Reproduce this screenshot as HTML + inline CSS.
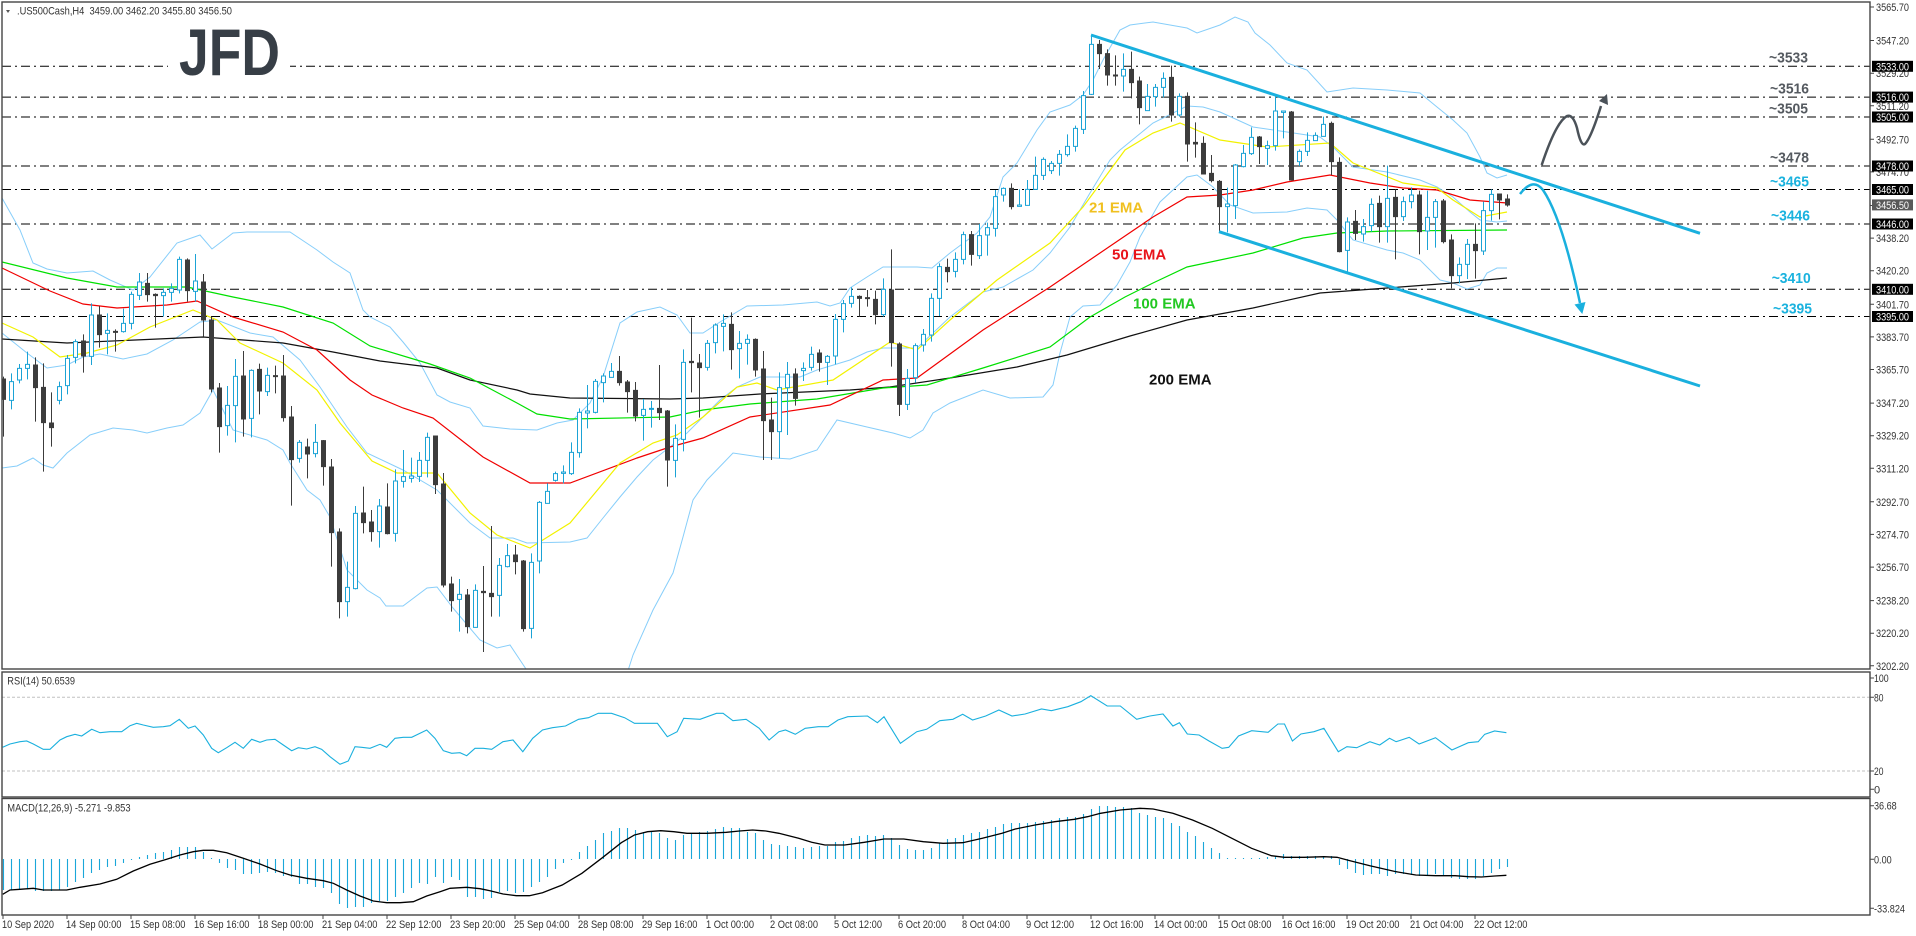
<!DOCTYPE html>
<html><head><meta charset="utf-8"><style>
html,body{margin:0;padding:0;background:#fff;width:1916px;height:936px;overflow:hidden}
svg{display:block}
.wd{stroke:#3c3c3c;stroke-width:1;fill:none;vector-effect:non-scaling-stroke}
.wu{stroke:#1ba3d6;stroke-width:1;fill:none;vector-effect:non-scaling-stroke}
.bd{fill:#3c3c3c;stroke:#3c3c3c;stroke-width:1;vector-effect:non-scaling-stroke}
.bu{fill:#fff;stroke:#1ba3d6;stroke-width:1;vector-effect:non-scaling-stroke}
.lv{stroke:#000;stroke-width:1;stroke-dasharray:9 4 2 4}
.ax{font-size:11px;fill:#333}
.bx{font-size:11px;fill:#fff}
.lg{font-size:15px;font-weight:bold}
</style></head><body>
<svg width="1916" height="936" viewBox="0 0 1916 936" xmlns="http://www.w3.org/2000/svg" font-family="Liberation Sans, Arial, sans-serif">
<defs>
<clipPath id="cm"><rect x="2" y="2" width="1868" height="667"/></clipPath>
<clipPath id="cr"><rect x="2" y="672" width="1868" height="125"/></clipPath>
<clipPath id="cd"><rect x="2" y="798" width="1868" height="117"/></clipPath>
</defs>
<rect width="1916" height="936" fill="#fff"/>

<g clip-path="url(#cm)">
<!-- level lines -->
<path class="lv" d="M2 66.3H1870M2 97.1H1870M2 117H1870M2 166H1870M2 189.5H1870M2 224H1870M2 289.3H1870M2 316.5H1870"/>

<!-- Bollinger bands -->
<g fill="none" stroke="#87cefa" stroke-width="1">
<polyline points="2,198 20,230 33,263 47,269 67,273 93,271 110,280 133,290 150,277 177,243 200,235 212,249 233,233 247,232 290,232 317,250 333,262 350,273 363,310 370,317 390,327 403,342 420,363 437,395 450,402 470,408 483,426 510,429 537,430 557,423 573,420 590,403 603,377 620,323 637,312 660,307 677,315 690,333 703,333 720,322 747,306 783,305 817,302 830,306 840,303 850,288 867,277 883,267 917,267 932,268 950,253 977,233 990,217 1003,177 1017,163 1037,130 1050,112 1070,105 1083,95 1093,80 1103,60 1120,30 1130,25 1153,22 1187,28 1197,33 1220,25 1235,17 1248,22 1255,33 1270,45 1287,63 1307,70 1327,92 1353,88 1387,90 1420,93 1437,107 1453,120 1467,133 1480,157 1487,173 1497,178 1507,175"/>
<polyline points="2,333 27,353 47,368 67,365 83,357 100,354 123,359 147,354 173,340 200,322 217,320 250,333 273,337 300,360 320,387 347,427 367,453 403,470 437,490 470,523 490,538 513,538 527,543 570,542 587,538 603,518 620,497 637,477 653,460 670,447 687,433 703,417 720,400 737,387 760,377 800,377 817,370 850,360 867,352 883,348 917,348 950,317 983,292 1003,287 1033,270 1050,253 1070,227 1090,193 1110,160 1120,150 1153,123 1187,106 1203,107 1220,112 1253,127 1287,132 1320,137 1333,147 1353,167 1387,172 1420,180 1437,187 1453,197 1470,212 1480,220 1497,222 1507,221"/>
<polyline points="2,468 17,466 33,458 43,465 53,468 67,453 90,435 113,428 133,430 147,433 167,428 183,425 200,413 213,390 233,430 267,440 283,450 290,463 307,490 320,500 330,517 347,570 367,590 380,598 386,606 403,606 427,588 437,587 453,608 480,640 497,648 510,645 520,660 540,690 600,700 625,680 633,655 653,610 673,573 683,537 693,500 707,480 733,453 760,457 790,459 817,450 837,420 867,427 893,433 910,438 923,430 933,413 950,403 983,390 1010,398 1043,397 1053,385 1060,353 1070,317 1083,306 1100,305 1117,285 1130,262 1140,237 1160,202 1187,177 1197,175 1213,187 1230,205 1253,213 1287,212 1307,208 1327,210 1337,220 1353,240 1387,250 1403,253 1420,260 1440,280 1453,283 1467,289 1480,285 1487,273 1497,268 1507,268"/>
</g>

<!-- EMAs -->
<g fill="none" stroke-width="1.2">
<polyline stroke="#111" points="2,339 67,343 203,337 283,343 333,352 380,361 437,368 470,380 517,390 530,394 570,398 670,399 703,398 760,394 850,390 890,387 950,378 1017,367 1067,355 1130,336 1187,320 1253,308 1320,293 1387,288 1453,283 1507,278"/>
<polyline stroke="#00e000" points="2,262 67,278 117,287 187,287 233,297 283,307 333,323 370,346 430,364 470,378 517,403 537,414 570,419 670,417 703,410 750,404 817,399 883,388 927,385 983,368 1050,347 1090,317 1125,297 1153,283 1187,267 1253,253 1303,238 1337,233 1387,231 1507,230"/>
<polyline stroke="#f00000" points="2,268 50,291 83,304 117,308 167,305 197,301 233,317 283,332 317,350 350,380 372,395 403,408 433,418 483,457 530,483 570,483 637,458 670,447 703,438 750,417 830,405 883,380 917,378 983,330 1050,287 1125,236 1153,217 1187,197 1220,195 1253,190 1287,182 1330,175 1370,183 1403,188 1437,190 1470,200 1507,203"/>
<polyline stroke="#f2f200" points="2,323 33,337 60,357 87,353 117,345 150,327 193,310 217,320 240,343 283,363 317,390 340,423 372,461 397,473 437,473 470,513 497,535 530,548 570,523 620,463 653,443 677,435 703,417 737,387 757,383 777,390 833,380 890,342 917,350 950,320 997,280 1050,243 1083,207 1125,150 1153,133 1180,123 1220,140 1267,147 1330,143 1353,163 1403,183 1437,188 1453,200 1480,217 1507,212"/>
</g>

<!-- Candles group A -->
<g transform="translate(0 200) scale(1 0.333333)">
<path class="wd" d="M3.5 530V710M35.5 472V665M43.5 490V815M51.5 577V740M83.5 403V518M99.5 318V443M115.5 388V455M147.5 219V305M155.5 280V383M187.5 175V305M203.5 222V410M211.5 350V577M219.5 549V758M243.5 453V710M259.5 491V643M275.5 497V580M283.5 465V665M291.5 618V917M307.5 716V835M323.5 720V857M331.5 777V1100M339.5 985V1255M363.5 860V1000M371.5 930V1025"/>
<path class="wu" d="M11.5 520V628M19.5 492V550M27.5 455V538M59.5 545V613M67.5 465V583M75.5 418V490M91.5 310V495M107.5 340V463M123.5 326V398M131.5 275V388M139.5 219V300M163.5 265V350M171.5 250V305M179.5 170V280M195.5 162V305M227.5 558V707M235.5 477V727M251.5 508V712M267.5 503V588M299.5 720V788M315.5 672V772M347.5 1085V1250M355.5 918V1168"/>
<path class="bd" d="M1.5 537h4v61h-4zM33.5 495h4v68h-4zM41.5 562h4v106h-4zM49.5 669h4v14h-4zM81.5 423h4v45h-4zM97.5 345h4v59h-4zM113.5 394h4v3h-4zM145.5 250h4v34h-4zM153.5 283h4v4h-4zM185.5 180h4v92h-4zM201.5 246h4v114h-4zM209.5 360h4v207h-4zM217.5 564h4v116h-4zM241.5 528h4v129h-4zM257.5 508h4v65h-4zM273.5 527h4v3h-4zM281.5 528h4v125h-4zM289.5 651h4v128h-4zM305.5 741h4v21h-4zM321.5 722h4v78h-4zM329.5 801h4v197h-4zM337.5 996h4v209h-4zM361.5 939h4v29h-4zM369.5 966h4v29h-4z"/>
<path class="bu" d="M9.5 545h4v56h-4zM17.5 505h4v35h-4zM25.5 493h4v12h-4zM57.5 560h4v41h-4zM65.5 475h4v82h-4zM73.5 425h4v47h-4zM89.5 345h4v124h-4zM105.5 391h4v9h-4zM121.5 370h4v25h-4zM129.5 283h4v87h-4zM137.5 246h4v40h-4zM161.5 277h4v10h-4zM169.5 265h4v12h-4zM177.5 178h4v92h-4zM193.5 243h4v31h-4zM225.5 616h4v61h-4zM233.5 529h4v88h-4zM249.5 511h4v144h-4zM265.5 526h4v49h-4zM297.5 727h4v48h-4zM313.5 727h4v34h-4zM345.5 1162h4v43h-4zM353.5 940h4v226h-4z"/>
</g>

<!-- Candles group B -->
<g transform="translate(0 190) scale(1 0.333333)">
<path class="wd" d="M387.5 880V1033M435.5 738V912M443.5 849V1192M451.5 1160V1265M467.5 1197V1330M483.5 1128V1386M491.5 1008V1280M515.5 1065V1153M523.5 1110V1325M619.5 498V587M627.5 570V668M635.5 576V694M659.5 525V690M667.5 660V890M691.5 383V607M699.5 492V683M731.5 367V539M755.5 445V560"/>
<path class="wu" d="M379.5 927V1073M395.5 838V1055M403.5 780V893M411.5 803V878M419.5 786V876M427.5 728V862M459.5 1167V1325M475.5 1183V1313M499.5 1104V1280M507.5 1062V1132M531.5 1090V1345M539.5 933V1150M547.5 880V941M555.5 845V875M563.5 826V880M571.5 757V855M579.5 655V803M587.5 585V715M595.5 567V670M603.5 550V637M611.5 519V563M643.5 627V752M651.5 633V713M675.5 703V862M683.5 478V784M707.5 450V542M715.5 400V490M723.5 373V484M739.5 423V565M747.5 433V524"/>
<path class="bd" d="M385.5 951h4v80h-4zM433.5 738h4v146h-4zM441.5 882h4v303h-4zM449.5 1182h4v50h-4zM465.5 1215h4v95h-4zM481.5 1204h4v4h-4zM489.5 1210h4v10h-4zM513.5 1095h4v20h-4zM521.5 1113h4v203h-4zM617.5 544h4v34h-4zM625.5 576h4v29h-4zM633.5 601h4v77h-4zM657.5 655h4v13h-4zM665.5 663h4v147h-4zM689.5 514h4v4h-4zM697.5 519h4v14h-4zM729.5 403h4v76h-4zM753.5 448h4v92h-4z"/>
<path class="bu" d="M377.5 948h4v77h-4zM393.5 873h4v157h-4zM401.5 860h4v14h-4zM409.5 858h4v7h-4zM417.5 811h4v48h-4zM425.5 742h4v69h-4zM457.5 1213h4v15h-4zM473.5 1201h4v111h-4zM497.5 1126h4v90h-4zM505.5 1097h4v33h-4zM529.5 1117h4v198h-4zM537.5 937h4v176h-4zM545.5 904h4v36h-4zM553.5 851h4v20h-4zM561.5 846h4v4h-4zM569.5 787h4v64h-4zM577.5 667h4v121h-4zM585.5 663h4v6h-4zM593.5 574h4v93h-4zM601.5 558h4v20h-4zM609.5 544h4v18h-4zM641.5 658h4v18h-4zM649.5 655h4v3h-4zM673.5 745h4v66h-4zM681.5 517h4v231h-4zM705.5 460h4v72h-4zM713.5 405h4v53h-4zM721.5 400h4v9h-4zM737.5 460h4v16h-4zM745.5 448h4v12h-4z"/>
</g>

<!-- Candles group CD -->
<g transform="translate(0 20) scale(1 0.333333)">
<path class="wd" d="M763.5 993V1320M771.5 1133V1320M795.5 1045V1157M819.5 988V1055M859.5 826V890M867.5 810V860M875.5 812V913M891.5 688V1040M899.5 967V1188M947.5 716V787M971.5 633V737M1011.5 490V568M1099.5 60V147M1107.5 88V197M1115.5 106V197M1131.5 95V235M1139.5 170V313M1171.5 137V305M1187.5 217V425M1195.5 307V413M1203.5 349V462M1211.5 405V487M1219.5 480V637M1259.5 348V432M1291.5 273V482M1331.5 305V465M1339.5 412V697M1355.5 570V660M1379.5 527V668M1395.5 508V718M1419.5 512V703M1443.5 537V670M1451.5 643V805M1475.5 610V776M1499.5 522V598M1507.5 523V560"/>
<path class="wu" d="M779.5 1057V1315M787.5 1026V1245M803.5 1027V1083M811.5 980V1052M827.5 1005V1095M835.5 882V1033M843.5 840V937M851.5 802V863M883.5 775V890M907.5 1047V1170M915.5 970V1088M923.5 927V995M931.5 820V965M939.5 730V888M955.5 697V772M963.5 635V733M979.5 612V717M987.5 608V707M995.5 510V650M1003.5 502V545M1019.5 508V560M1027.5 480V557M1035.5 410V509M1043.5 412V480M1051.5 423V462M1059.5 390V467M1067.5 343V410M1075.5 317V395M1083.5 213V342M1091.5 45V225M1123.5 100V215M1147.5 192V272M1155.5 192V260M1163.5 157V232M1179.5 220V290M1227.5 503V637M1235.5 432V597M1243.5 375V442M1251.5 322V405M1267.5 362V435M1275.5 226V392M1283.5 273V355M1299.5 388V438M1307.5 337V408M1315.5 337V362M1323.5 290V350M1347.5 592V755M1363.5 597V665M1371.5 535V635M1387.5 437V668M1403.5 530V603M1411.5 502V565M1427.5 512V690M1435.5 537V683M1459.5 712V790M1467.5 657V777M1483.5 545V705M1491.5 508V602"/>
<path class="bd" d="M761.5 1047h4v155h-4zM769.5 1200h4v35h-4zM793.5 1062h4v73h-4zM817.5 999h4v28h-4zM857.5 829h4v6h-4zM865.5 833h4v3h-4zM873.5 838h4v46h-4zM889.5 810h4v158h-4zM897.5 972h4v181h-4zM945.5 742h4v13h-4zM969.5 644h4v59h-4zM1009.5 505h4v55h-4zM1097.5 73h4v28h-4zM1105.5 101h4v64h-4zM1113.5 165h4v3h-4zM1129.5 148h4v40h-4zM1137.5 183h4v80h-4zM1169.5 172h4v113h-4zM1185.5 229h4v143h-4zM1193.5 367h4v5h-4zM1201.5 370h4v92h-4zM1209.5 460h4v22h-4zM1217.5 484h4v76h-4zM1257.5 351h4v29h-4zM1289.5 276h4v204h-4zM1329.5 310h4v115h-4zM1337.5 427h4v268h-4zM1353.5 604h4v36h-4zM1377.5 550h4v70h-4zM1393.5 532h4v58h-4zM1417.5 525h4v110h-4zM1441.5 543h4v122h-4zM1449.5 660h4v107h-4zM1473.5 673h4v19h-4zM1497.5 522h4v18h-4zM1505.5 537h4v18h-4z"/>
<path class="bu" d="M777.5 1103h4v132h-4zM785.5 1063h4v40h-4zM801.5 1045h4v7h-4zM809.5 1003h4v39h-4zM825.5 1009h4v18h-4zM833.5 898h4v110h-4zM841.5 851h4v47h-4zM849.5 829h4v21h-4zM881.5 808h4v76h-4zM905.5 1075h4v78h-4zM913.5 977h4v96h-4zM921.5 943h4v32h-4zM929.5 835h4v110h-4zM937.5 740h4v95h-4zM953.5 718h4v36h-4zM961.5 644h4v74h-4zM977.5 647h4v60h-4zM985.5 623h4v22h-4zM993.5 530h4v95h-4zM1001.5 505h4v20h-4zM1017.5 555h4v4h-4zM1025.5 508h4v48h-4zM1033.5 466h4v42h-4zM1041.5 418h4v48h-4zM1049.5 430h4v22h-4zM1057.5 403h4v27h-4zM1065.5 379h4v25h-4zM1073.5 325h4v54h-4zM1081.5 227h4v101h-4zM1089.5 73h4v150h-4zM1121.5 148h4v20h-4zM1145.5 229h4v43h-4zM1153.5 202h4v28h-4zM1161.5 175h4v27h-4zM1177.5 229h4v56h-4zM1225.5 552h4v8h-4zM1233.5 435h4v122h-4zM1241.5 400h4v40h-4zM1249.5 352h4v49h-4zM1265.5 377h4v8h-4zM1273.5 273h4v104h-4zM1281.5 273h4v4h-4zM1297.5 394h4v31h-4zM1305.5 361h4v33h-4zM1313.5 346h4v16h-4zM1321.5 313h4v36h-4zM1345.5 606h4v85h-4zM1361.5 620h4v22h-4zM1369.5 553h4v64h-4zM1385.5 535h4v85h-4zM1401.5 545h4v45h-4zM1409.5 525h4v20h-4zM1425.5 592h4v41h-4zM1433.5 545h4v47h-4zM1457.5 733h4v34h-4zM1465.5 673h4v60h-4zM1481.5 572h4v121h-4zM1489.5 523h4v49h-4z"/>
</g>

<!-- channel -->
<g stroke="#1ab0de" stroke-width="3" fill="none">
<line x1="1091" y1="35" x2="1700" y2="233.3"/>
<line x1="1219" y1="231.7" x2="1700" y2="386"/>
</g>

<!-- arrows -->
<path d="M1541.7 165 Q1556 122 1567 116 Q1573 114 1577 128 Q1581 147 1585 144 Q1591 138 1601 106" fill="none" stroke="#4b5259" stroke-width="2.5"/>
<polygon points="1607,94 1608,105 1599,101" fill="#4b5259"/>
<path d="M1520 194 Q1533 177 1543 190 Q1562 218 1580 303" fill="none" stroke="#1ab0de" stroke-width="2.5"/>
<polygon points="1582.3,314 1585.5,302 1574.5,304.5" fill="#1ab0de"/>

<!-- level text -->
<g class="lg">
<text x="1769" y="62.5" fill="#555a60" textLength="39" lengthAdjust="spacingAndGlyphs">~3533</text>
<text x="1770" y="93.5" fill="#555a60" textLength="39" lengthAdjust="spacingAndGlyphs">~3516</text>
<text x="1769" y="113.5" fill="#555a60" textLength="39" lengthAdjust="spacingAndGlyphs">~3505</text>
<text x="1770" y="162.5" fill="#555a60" textLength="39" lengthAdjust="spacingAndGlyphs">~3478</text>
<text x="1770" y="186.5" fill="#1ab2de" textLength="39" lengthAdjust="spacingAndGlyphs">~3465</text>
<text x="1771" y="220.5" fill="#1ab2de" textLength="39" lengthAdjust="spacingAndGlyphs">~3446</text>
<text x="1771.7" y="283" fill="#1ab2de" textLength="39" lengthAdjust="spacingAndGlyphs">~3410</text>
<text x="1773" y="313.3" fill="#1ab2de" textLength="39" lengthAdjust="spacingAndGlyphs">~3395</text>
<text x="1089" y="212.5" fill="#f0c020">21 EMA</text>
<text x="1112" y="259.5" fill="#e8141b">50 EMA</text>
<text x="1133" y="308.5" fill="#22c822">100 EMA</text>
<text x="1149" y="384.5" fill="#111">200 EMA</text>
</g>

<!-- logo -->
<rect x="168" y="22" width="122" height="58" fill="#fff"/>
<text x="179" y="75" font-size="66" font-weight="bold" fill="#373e46" textLength="101" lengthAdjust="spacingAndGlyphs">JFD</text>
</g>

<!-- title -->
<polygon points="6,10 10,10 8,13" fill="#555"/>
<text x="17" y="14.5" font-size="11" fill="#333" textLength="215" lengthAdjust="spacingAndGlyphs">.US500Cash,H4&#160; 3459.00 3462.20 3455.80 3456.50</text>

<!-- RSI -->
<g clip-path="url(#cr)">
<path d="M2 697.3H1870M2 771H1870" stroke="#c0c0c0" stroke-dasharray="3 2" stroke-width="1"/>
<polyline fill="none" stroke="#1ab0de" stroke-width="1.1" points="2.7,747.3 10,744 20,741.7 26.7,741 33.3,744 43.3,749.3 50,749.3 60,740 66.7,736.7 75,734.3 81.7,736 91.7,729.3 100,732.7 110,731.7 121.7,731.7 130,725.7 136.7,723.3 143.3,725 153.3,727.3 163.3,726.7 170,725.7 179.3,719.3 188.3,728.3 195,726 203.3,735 211.7,748.3 218.3,752.7 226.7,747.7 235,742.3 243.3,748.3 251.7,739.3 260,742.3 266.7,740 275,739.3 283.3,745 291.7,750.7 298.3,747.7 306.7,749 315,746.7 321.7,749.3 330,756.7 340,764.3 348.3,761 355,746.7 361.7,747.3 370,748.3 380,744.3 386.7,747.3 395,738.3 403.3,737.3 411.7,737.3 426.7,730 435,738.3 443.3,750.7 451.7,753.3 460,752.7 466.7,755.7 475,748.3 483.3,748.3 491.7,749.3 503,741.7 513,740 522.8,751.7 532.7,738.3 542.5,730 552.4,727.7 565.5,726 578.6,719.3 588.5,717.7 598.3,713.3 611.5,713.3 624.6,717.7 634.5,723.3 657.4,723.3 667.3,736.7 677.1,731.7 683.7,718.3 700.1,719.3 716.5,713.3 723.1,713.3 732.9,720.7 746.1,719.3 759.2,728.3 769.1,740 778.9,731.7 785.5,730 795.3,734.3 805.2,728.3 818.3,726.7 828.1,726.7 838,720 847.8,716.7 867.5,716 877.4,722.7 884,716.7 900.4,743.3 916.8,731.7 926.6,729.3 939.8,720.7 952.9,719.3 962.7,714.3 972.6,720 985.7,716 998.9,710 1012,716 1025.1,714 1041.5,709 1051.4,710.7 1067.8,706.7 1080.9,701.7 1090.8,695.7 1107.2,706 1120.3,706 1136.7,719.3 1149.9,716 1163,714 1172.9,726 1179.4,722.7 1187.3,734 1199.1,735 1209,741 1222.1,748.3 1228.7,747.3 1238.5,736 1251.7,730.7 1268.1,732.3 1277.9,724 1284.5,724 1292.4,741 1300.9,734 1314,731.7 1323.9,728.3 1338.3,751.7 1346.9,746.7 1356.7,747.7 1369.9,741.7 1379.7,745 1389.5,738.3 1396.1,741.7 1409.2,737.3 1419.1,744 1435.5,737.7 1451.9,750 1468.3,742.7 1478.2,741.7 1484.7,734.3 1494.6,731 1506.4,732.7"/>
</g>
<text x="7.3" y="684.7" font-size="11" fill="#333" textLength="67.7" lengthAdjust="spacingAndGlyphs">RSI(14) 50.6539</text>

<!-- MACD -->
<g clip-path="url(#cd)">
<path fill="none" stroke="#1aa7d9" stroke-width="1.1" d="M3.5 859V890M11.5 859V890M19.5 859V889M27.5 859V889M35.5 859V891M43.5 859V891M51.5 859V891M59.5 859V890M67.5 859V887M75.5 859V882M83.5 859V878M91.5 859V873M99.5 859V870M107.5 859V867M115.5 859V866M123.5 859V863M131.5 859V860M139.5 859V857M147.5 859V855M155.5 859V853M163.5 859V852M171.5 859V850M179.5 859V847M187.5 859V847M195.5 859V847M203.5 859V852M211.5 859V858M219.5 859V863M227.5 859V868M235.5 859V870M243.5 859V874M251.5 859V874M259.5 859V873M267.5 859V872M275.5 859V873M283.5 859V876M291.5 859V877M299.5 859V884M307.5 859V884M315.5 859V887M323.5 859V888M331.5 859V893M339.5 859V904M347.5 859V908M355.5 859V907M363.5 859V907M371.5 859V903M379.5 859V901M387.5 859V901M395.5 859V897M403.5 859V893M411.5 859V888M419.5 859V883M427.5 859V884M435.5 859V877M443.5 859V883M451.5 859V877M459.5 859V880M467.5 859V897M475.5 859V897M483.5 859V899M491.5 859V898M499.5 859V892M507.5 859V891M515.5 859V893M523.5 859V892M531.5 859V887M539.5 859V882M547.5 859V877M555.5 859V869M563.5 859V863M571.5 859V860M579.5 859V852M587.5 859V846M595.5 859V840M603.5 859V833M611.5 859V831M619.5 859V828M627.5 859V828M635.5 859V830M643.5 859V832M651.5 859V832M659.5 859V833M667.5 859V838M675.5 859V840M683.5 859V835M691.5 859V833M699.5 859V832M707.5 859V831M715.5 859V829M723.5 859V827M731.5 859V828M739.5 859V828M747.5 859V832M755.5 859V833M763.5 859V840M771.5 859V844M779.5 859V845M787.5 859V846M795.5 859V847M803.5 859V848M811.5 859V847M819.5 859V846M827.5 859V846M835.5 859V842M843.5 859V841M851.5 859V838M859.5 859V836M867.5 859V835M875.5 859V836M883.5 859V835M891.5 859V838M899.5 859V845M907.5 859V849M915.5 859V850M923.5 859V850M931.5 859V848M939.5 859V843M947.5 859V839M955.5 859V838M963.5 859V835M971.5 859V833M979.5 859V832M987.5 859V829M995.5 859V827M1003.5 859V824M1011.5 859V823M1019.5 859V823M1027.5 859V823M1035.5 859V822M1043.5 859V821M1051.5 859V820M1059.5 859V818M1067.5 859V817M1075.5 859V817M1083.5 859V814M1091.5 859V809M1099.5 859V806M1107.5 859V806M1115.5 859V807M1123.5 859V807M1131.5 859V808M1139.5 859V813M1147.5 859V815M1155.5 859V817M1163.5 859V818M1171.5 859V823M1179.5 859V826M1187.5 859V832M1195.5 859V836M1203.5 859V842M1211.5 859V848M1219.5 859V853M1227.5 859V858M1235.5 859V858M1243.5 859V858M1251.5 859V858M1259.5 859V858M1267.5 859V857M1275.5 859V856M1283.5 859V854M1291.5 859V856M1299.5 859V856M1307.5 859V856M1315.5 859V856M1323.5 859V856M1331.5 859V856M1339.5 859V865M1347.5 859V869M1355.5 859V873M1363.5 859V875M1371.5 859V874M1379.5 859V874M1387.5 859V876M1395.5 859V874M1403.5 859V874M1411.5 859V875M1419.5 859V876M1427.5 859V875M1435.5 859V874M1443.5 859V876M1451.5 859V878M1459.5 859V879M1467.5 859V879M1475.5 859V879M1483.5 859V876M1491.5 859V873M1499.5 859V869M1507.5 859V867"/>
<polyline fill="none" stroke="#000" stroke-width="1.3" points="2.7,894.3 10,890 20,889.3 33.3,888.3 43.3,890 66.7,890 80,887.3 100,884 116.7,879.3 133.3,871 150,864.3 166.7,859.3 180,855 193.3,851.7 203.3,850.3 213.3,850.3 226.7,852.7 243.3,858.3 260,864 276.7,870.7 290,875 306.7,878.3 323.3,880.7 333.3,883.3 346.7,890 360,896 373.3,901 386.7,902.7 400,902.7 413.3,901.7 426.7,896 440,891.7 450,888.3 466.7,887.3 480,888.7 490,890.7 503.1,894 516.3,895.7 529.4,895.7 542.5,892.7 562.2,885 581.9,873.3 601.6,858.3 621.3,842.7 634.5,835 647.6,831.7 660.7,830.7 673.8,831.7 687,833.3 706.7,833.3 726.4,832.3 739.5,831 752.6,830 765.8,831 778.9,833.3 798.6,838.3 811.7,842.3 824.9,845 844.6,845 864.3,842.3 884,839 903.7,839 923.4,841.7 943.1,843.3 962.7,842.7 982.4,838.3 1002.1,833.3 1015.3,829 1035,825 1054.7,821.7 1074.4,819.3 1087.5,816.7 1100.6,813.3 1120.3,810 1140,808.3 1153.1,809 1172.8,813.3 1192.5,820 1212.2,828.3 1231.9,838.3 1251.6,848.3 1271.3,855.7 1284.5,857.3 1304.2,857.3 1323.9,856.7 1337,857.3 1350.1,860.7 1369.9,865.7 1396.1,871.7 1415.8,875 1435.5,875.7 1455.2,875.7 1468.3,876.7 1481.5,877 1494.6,876 1506.4,875.3"/>
</g>
<text x="7.3" y="811.3" font-size="11" fill="#333" textLength="123.3" lengthAdjust="spacingAndGlyphs">MACD(12,26,9) -5.271 -9.853</text>

<!-- frames -->
<g fill="none" stroke="#444" stroke-width="1.4">
<rect x="2" y="2" width="1868" height="667"/>
<rect x="2" y="672" width="1868" height="125"/>
<rect x="2" y="798.5" width="1868" height="116.5"/>
</g>

<!-- price axis ticks -->
<path stroke="#444" stroke-width="1" d="M1870 7H1874M1870 40.5H1874M1870 73.2H1874M1870 105.8H1874M1870 139.3H1874M1870 171.9H1874M1870 205.5H1874M1870 238.1H1874M1870 270.7H1874M1870 304.3H1874M1870 336.9H1874M1870 369.5H1874M1870 403.1H1874M1870 435.7H1874M1870 468.3H1874M1870 501.8H1874M1870 534.4H1874M1870 567.1H1874M1870 600.6H1874M1870 633.2H1874M1870 665.8H1874M1870 678H1874M1870 697.3H1874M1870 771H1874M1870 789.3H1874M1870 805.7H1874M1870 859.3H1874M1870 908.3H1874"/>
<g class="ax">
<text x="1876" y="11" textLength="33" lengthAdjust="spacingAndGlyphs">3565.70</text>
<text x="1876" y="44.5" textLength="33" lengthAdjust="spacingAndGlyphs">3547.20</text>
<text x="1876" y="77.2" textLength="33" lengthAdjust="spacingAndGlyphs">3529.20</text>
<text x="1876" y="109.8" textLength="33" lengthAdjust="spacingAndGlyphs">3511.20</text>
<text x="1876" y="143.3" textLength="33" lengthAdjust="spacingAndGlyphs">3492.70</text>
<text x="1876" y="175.9" textLength="33" lengthAdjust="spacingAndGlyphs">3474.70</text>
<text x="1876" y="242.1" textLength="33" lengthAdjust="spacingAndGlyphs">3438.20</text>
<text x="1876" y="274.7" textLength="33" lengthAdjust="spacingAndGlyphs">3420.20</text>
<text x="1876" y="308.3" textLength="33" lengthAdjust="spacingAndGlyphs">3401.70</text>
<text x="1876" y="340.9" textLength="33" lengthAdjust="spacingAndGlyphs">3383.70</text>
<text x="1876" y="373.5" textLength="33" lengthAdjust="spacingAndGlyphs">3365.70</text>
<text x="1876" y="407.1" textLength="33" lengthAdjust="spacingAndGlyphs">3347.20</text>
<text x="1876" y="439.7" textLength="33" lengthAdjust="spacingAndGlyphs">3329.20</text>
<text x="1876" y="472.3" textLength="33" lengthAdjust="spacingAndGlyphs">3311.20</text>
<text x="1876" y="505.8" textLength="33" lengthAdjust="spacingAndGlyphs">3292.70</text>
<text x="1876" y="538.4" textLength="33" lengthAdjust="spacingAndGlyphs">3274.70</text>
<text x="1876" y="571.1" textLength="33" lengthAdjust="spacingAndGlyphs">3256.70</text>
<text x="1876" y="604.6" textLength="33" lengthAdjust="spacingAndGlyphs">3238.20</text>
<text x="1876" y="637.2" textLength="33" lengthAdjust="spacingAndGlyphs">3220.20</text>
<text x="1876" y="669.8" textLength="33" lengthAdjust="spacingAndGlyphs">3202.20</text>
<text x="1874" y="682" textLength="14.7" lengthAdjust="spacingAndGlyphs">100</text>
<text x="1874" y="701.3" textLength="9.5" lengthAdjust="spacingAndGlyphs">80</text>
<text x="1874" y="775" textLength="9.5" lengthAdjust="spacingAndGlyphs">20</text>
<text x="1874" y="793.3">0</text>
<text x="1874" y="809.7" textLength="22.7" lengthAdjust="spacingAndGlyphs">36.68</text>
<text x="1874" y="863.3" textLength="17.7" lengthAdjust="spacingAndGlyphs">0.00</text>
<text x="1874" y="912.3" textLength="31" lengthAdjust="spacingAndGlyphs">-33.824</text>
</g>

<!-- price boxes -->
<g>
<rect x="1872" y="60.8" width="41" height="11" fill="#000"/>
<rect x="1872" y="91.6" width="41" height="11" fill="#000"/>
<rect x="1872" y="111.5" width="41" height="11" fill="#000"/>
<rect x="1872" y="160.5" width="41" height="11" fill="#000"/>
<rect x="1872" y="184" width="41" height="11" fill="#000"/>
<rect x="1872" y="199.4" width="41" height="11" fill="#595959"/>
<rect x="1872" y="218.5" width="41" height="11" fill="#000"/>
<rect x="1872" y="283.8" width="41" height="11" fill="#000"/>
<rect x="1872" y="311" width="41" height="11" fill="#000"/>
</g>
<g class="bx">
<text x="1876" y="70.3" textLength="33" lengthAdjust="spacingAndGlyphs">3533.00</text>
<text x="1876" y="101.1" textLength="33" lengthAdjust="spacingAndGlyphs">3516.00</text>
<text x="1876" y="121" textLength="33" lengthAdjust="spacingAndGlyphs">3505.00</text>
<text x="1876" y="170" textLength="33" lengthAdjust="spacingAndGlyphs">3478.00</text>
<text x="1876" y="193.5" textLength="33" lengthAdjust="spacingAndGlyphs">3465.00</text>
<text x="1876" y="208.9" textLength="33" lengthAdjust="spacingAndGlyphs">3456.50</text>
<text x="1876" y="228" textLength="33" lengthAdjust="spacingAndGlyphs">3446.00</text>
<text x="1876" y="293.3" textLength="33" lengthAdjust="spacingAndGlyphs">3410.00</text>
<text x="1876" y="320.5" textLength="33" lengthAdjust="spacingAndGlyphs">3395.00</text>
</g>

<!-- time axis -->
<path stroke="#444" stroke-width="1" d="M3 915V919M67 915V919M131 915V919M195 915V919M259 915V919M323 915V919M387 915V919M451 915V919M515 915V919M579 915V919M643 915V919M707 915V919M771 915V919M835 915V919M899 915V919M963 915V919M1027 915V919M1091 915V919M1155 915V919M1219 915V919M1283 915V919M1347 915V919M1411 915V919M1475 915V919"/>
<g class="ax">
<text x="2" y="928" textLength="52" lengthAdjust="spacingAndGlyphs">10 Sep 2020</text>
<text x="66" y="928" textLength="55.5" lengthAdjust="spacingAndGlyphs">14 Sep 00:00</text>
<text x="130" y="928" textLength="55.5" lengthAdjust="spacingAndGlyphs">15 Sep 08:00</text>
<text x="194" y="928" textLength="55.5" lengthAdjust="spacingAndGlyphs">16 Sep 16:00</text>
<text x="258" y="928" textLength="55.5" lengthAdjust="spacingAndGlyphs">18 Sep 00:00</text>
<text x="322" y="928" textLength="55.5" lengthAdjust="spacingAndGlyphs">21 Sep 04:00</text>
<text x="386" y="928" textLength="55.5" lengthAdjust="spacingAndGlyphs">22 Sep 12:00</text>
<text x="450" y="928" textLength="55.5" lengthAdjust="spacingAndGlyphs">23 Sep 20:00</text>
<text x="514" y="928" textLength="55.5" lengthAdjust="spacingAndGlyphs">25 Sep 04:00</text>
<text x="578" y="928" textLength="55.5" lengthAdjust="spacingAndGlyphs">28 Sep 08:00</text>
<text x="642" y="928" textLength="55.5" lengthAdjust="spacingAndGlyphs">29 Sep 16:00</text>
<text x="706" y="928" textLength="48" lengthAdjust="spacingAndGlyphs">1 Oct 00:00</text>
<text x="770" y="928" textLength="48" lengthAdjust="spacingAndGlyphs">2 Oct 08:00</text>
<text x="834" y="928" textLength="48" lengthAdjust="spacingAndGlyphs">5 Oct 12:00</text>
<text x="898" y="928" textLength="48" lengthAdjust="spacingAndGlyphs">6 Oct 20:00</text>
<text x="962" y="928" textLength="48" lengthAdjust="spacingAndGlyphs">8 Oct 04:00</text>
<text x="1026" y="928" textLength="48" lengthAdjust="spacingAndGlyphs">9 Oct 12:00</text>
<text x="1090" y="928" textLength="53.5" lengthAdjust="spacingAndGlyphs">12 Oct 16:00</text>
<text x="1154" y="928" textLength="53.5" lengthAdjust="spacingAndGlyphs">14 Oct 00:00</text>
<text x="1218" y="928" textLength="53.5" lengthAdjust="spacingAndGlyphs">15 Oct 08:00</text>
<text x="1282" y="928" textLength="53.5" lengthAdjust="spacingAndGlyphs">16 Oct 16:00</text>
<text x="1346" y="928" textLength="53.5" lengthAdjust="spacingAndGlyphs">19 Oct 20:00</text>
<text x="1410" y="928" textLength="53.5" lengthAdjust="spacingAndGlyphs">21 Oct 04:00</text>
<text x="1474" y="928" textLength="53.5" lengthAdjust="spacingAndGlyphs">22 Oct 12:00</text>
</g>
</svg>
</body></html>
